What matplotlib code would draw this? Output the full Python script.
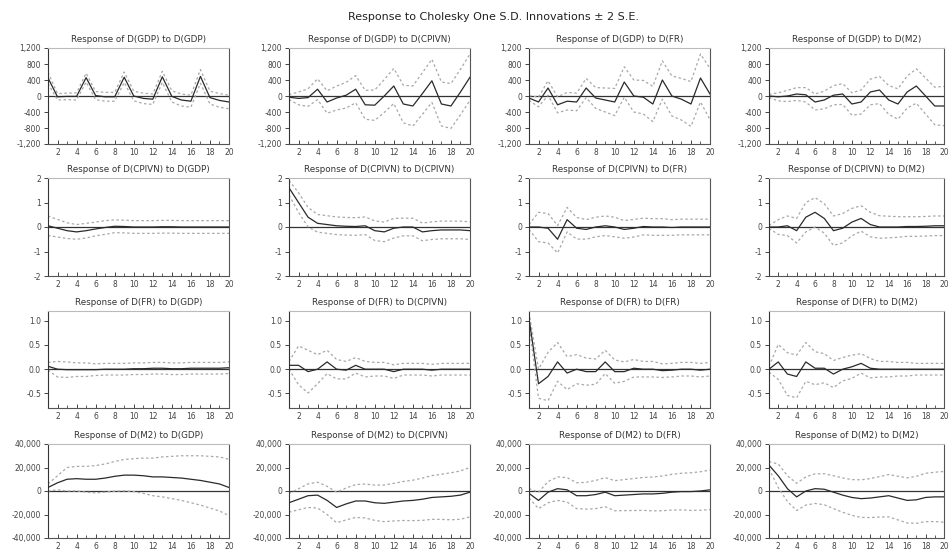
import numpy as np
import matplotlib
matplotlib.use("Agg")
import matplotlib.pyplot as plt
from matplotlib.ticker import FuncFormatter, MultipleLocator

# periods after the shock
periods = list(range(1, 21))
variables = ["GDP", "CPIVN", "FR", "M2"]

# responses (solid line) and standard errors (bands are +/- 2 S.E.)
# row 1: response of D(GDP)
resp_gdp_gdp = [450, -20, -10, -10, 460, 10, -20, -20, 470, 0, -60, -80, 480, -10, -100, -130, 490, -40, -110, -150]
se_gdp_gdp = [70, 40, 40, 45, 55, 50, 55, 55, 65, 60, 65, 65, 70, 70, 75, 75, 85, 80, 85, 85]
resp_gdp_cpivn = [-30, -60, -40, 170, -150, -50, 20, 170, -220, -230, 0, 250, -200, -250, 60, 380, -200, -250, 100, 470]
se_gdp_cpivn = [30, 80, 110, 130, 140, 150, 160, 170, 180, 190, 205, 220, 235, 250, 260, 270, 275, 280, 285, 290]
resp_gdp_fr = [-50, -150, 200, -220, -130, -150, 200, -50, -100, -150, 350, 0, -30, -200, 400, 0, -80, -200, 450, 50]
se_gdp_fr = [30, 60, 90, 100, 110, 110, 120, 130, 150, 170, 190, 200, 210, 220, 240, 250, 260, 280, 300, 320]
resp_gdp_m2 = [0, -20, 0, 50, 30, -150, -100, 20, 50, -200, -150, 100, 150, -100, -200, 100, 250, 0, -250, -250]
se_gdp_m2 = [20, 50, 70, 80, 90, 100, 110, 120, 130, 140, 150, 160, 170, 180, 190, 200, 215, 225, 235, 245]

# row 2: response of D(CPIVN)
resp_cpivn_gdp = [0.05, -0.05, -0.15, -0.2, -0.15, -0.08, -0.02, 0.03, 0.02, 0.0, 0.0, 0.0, 0.01, 0.01, 0.0, 0.0, 0.0, 0.0, 0.0, 0.0]
se_cpivn_gdp = [0.2, 0.18, 0.16, 0.15, 0.15, 0.14, 0.14, 0.13, 0.13, 0.13, 0.13, 0.13, 0.13, 0.13, 0.13, 0.13, 0.13, 0.13, 0.13, 0.13]
resp_cpivn_cpivn = [1.6, 1.0, 0.4, 0.15, 0.1, 0.05, 0.03, 0.02, 0.05, -0.15, -0.2, -0.05, 0.0, 0.0, -0.2, -0.15, -0.12, -0.12, -0.12, -0.15]
se_cpivn_cpivn = [0.15, 0.2, 0.2, 0.18, 0.18, 0.18, 0.18, 0.18, 0.18, 0.2, 0.2, 0.2, 0.18, 0.18, 0.18, 0.18, 0.18, 0.18, 0.18, 0.18]
resp_cpivn_fr = [0.0, 0.0, -0.05, -0.5, 0.3, -0.05, -0.1, 0.0, 0.05, 0.0, -0.1, -0.05, 0.02, 0.0, 0.0, -0.02, 0.0, 0.0, 0.0, 0.0]
se_cpivn_fr = [0.05, 0.3, 0.3, 0.28, 0.25, 0.22, 0.2, 0.2, 0.2, 0.2, 0.18, 0.18, 0.17, 0.17, 0.17, 0.16, 0.16, 0.16, 0.16, 0.16]
resp_cpivn_m2 = [0.0, 0.0, 0.05, -0.15, 0.4, 0.6, 0.35, -0.15, -0.05, 0.2, 0.35, 0.1, 0.0, 0.0, 0.0, 0.02, 0.02, 0.03, 0.05, 0.05]
se_cpivn_m2 = [0.03, 0.15, 0.2, 0.25, 0.3, 0.3, 0.3, 0.3, 0.3, 0.28, 0.26, 0.25, 0.23, 0.22, 0.21, 0.2, 0.2, 0.2, 0.2, 0.2]

# row 3: response of D(FR)
resp_fr_gdp = [0.06, 0.0, -0.01, -0.01, -0.01, -0.01, 0.0, 0.0, 0.0, 0.01, 0.01, 0.02, 0.02, 0.01, 0.01, 0.02, 0.02, 0.02, 0.02, 0.03]
se_fr_gdp = [0.04, 0.08, 0.08, 0.07, 0.07, 0.06, 0.06, 0.06, 0.06, 0.06, 0.06, 0.06, 0.06, 0.06, 0.06, 0.06, 0.06, 0.06, 0.06, 0.06]
resp_fr_cpivn = [0.08, 0.08, -0.05, 0.0, 0.15, 0.0, -0.02, 0.08, 0.0, 0.0, 0.0, -0.05, 0.0, 0.0, 0.0, -0.02, 0.0, 0.0, 0.0, 0.0]
se_fr_cpivn = [0.04, 0.2, 0.22, 0.15, 0.12, 0.1, 0.09, 0.08, 0.08, 0.07, 0.07, 0.07, 0.06, 0.06, 0.06, 0.06, 0.06, 0.06, 0.06, 0.06]
resp_fr_fr = [1.05, -0.3, -0.15, 0.15, -0.08, 0.0, -0.05, -0.05, 0.15, -0.05, -0.05, 0.02, 0.0, 0.0, -0.03, -0.02, 0.0, 0.0, -0.02, 0.0]
se_fr_fr = [0.06, 0.15, 0.25, 0.2, 0.17, 0.15, 0.14, 0.13, 0.12, 0.12, 0.1, 0.09, 0.08, 0.08, 0.07, 0.07, 0.07, 0.07, 0.07, 0.07]
resp_fr_m2 = [0.0, 0.15, -0.1, -0.15, 0.15, 0.02, 0.02, -0.1, 0.0, 0.05, 0.12, 0.02, 0.0, 0.0, 0.0, 0.0, 0.0, 0.0, 0.0, 0.0]
se_fr_m2 = [0.03, 0.18, 0.22, 0.22, 0.2, 0.17, 0.15, 0.14, 0.12, 0.12, 0.1, 0.1, 0.08, 0.08, 0.07, 0.07, 0.06, 0.06, 0.06, 0.06]

# row 4: response of D(M2)
resp_m2_gdp = [3000, 7000, 10000, 10500, 10000, 10000, 11000, 12500, 13500, 13500, 13000, 12000, 12000, 11500, 11000, 10000, 9000, 7500, 6000, 3000]
se_m2_gdp = [1500, 3000, 5000, 5200, 5500, 5800, 6000, 6300, 6700, 7000, 7500, 8000, 8500, 9000, 9500, 10000, 10500, 11000, 11500, 12000]
resp_m2_cpivn = [-10000, -7000, -4000, -3500, -8000, -14000, -11000, -8500, -8500, -10000, -10500, -9500, -8500, -8000, -7000, -5500, -5000, -4500, -3500, -1000]
se_m2_cpivn = [4000, 4500, 5000, 5500, 6000, 6500, 6800, 7000, 7200, 7500, 7800, 8000, 8300, 8600, 9000, 9300, 9600, 10000, 10300, 10500]
resp_m2_fr = [-2000, -8000, -1000, 2000, 1000, -4000, -4000, -3000, -1000, -4000, -3500, -3000, -2500, -2500, -2000, -1000, -500, -500, 0, 1000]
se_m2_fr = [2000, 3500, 4500, 5000, 5200, 5500, 5700, 6000, 6200, 6400, 6600, 6800, 7000, 7200, 7400, 7600, 7800, 8000, 8200, 8400]
resp_m2_m2 = [22000, 13000, 2000, -5000, 0, 2000, 1500, -1000, -3500, -5500, -6500, -6000, -5000, -4000, -6000, -8000, -7500, -5500, -5000, -5000]
se_m2_m2 = [1500, 5000, 5500, 5800, 6000, 6300, 6600, 7000, 7300, 7600, 8000, 8300, 8600, 9000, 9300, 9600, 10000, 10300, 10500, 10800]

responses = [
    [resp_gdp_gdp, resp_gdp_cpivn, resp_gdp_fr, resp_gdp_m2],
    [resp_cpivn_gdp, resp_cpivn_cpivn, resp_cpivn_fr, resp_cpivn_m2],
    [resp_fr_gdp, resp_fr_cpivn, resp_fr_fr, resp_fr_m2],
    [resp_m2_gdp, resp_m2_cpivn, resp_m2_fr, resp_m2_m2],
]
errors = [
    [se_gdp_gdp, se_gdp_cpivn, se_gdp_fr, se_gdp_m2],
    [se_cpivn_gdp, se_cpivn_cpivn, se_cpivn_fr, se_cpivn_m2],
    [se_fr_gdp, se_fr_cpivn, se_fr_fr, se_fr_m2],
    [se_m2_gdp, se_m2_cpivn, se_m2_fr, se_m2_m2],
]

# y axis per responding variable: limits, tick step, label format
row_ylim = [(-1200, 1200), (-2, 2), (-0.8, 1.2), (-40000, 40000)]
row_ystep = [400, 1, 0.5, 20000]
row_fmt = ["{:,.0f}", "{:.0f}", "{:.1f}", "{:,.0f}"]

# panel boxes in pixels (the scan is slightly skewed, keep it simple)
W, H = 950, 550
col_left = [48, 289, 529, 769]
col_w = [181, 181, 181, 175]
row_top = [48, 178, 311, 444]
row_h = [96, 98, 97, 94]

fig = plt.figure(figsize=(9.5, 5.5), dpi=100)
fig.text(0.52, 1 - 17 / H, "Response to Cholesky One S.D. Innovations \u00b1 2 S.E.",
         ha="center", va="center", fontsize=8, color="#222222")

for i in range(4):
    for j in range(4):
        ax = fig.add_axes([col_left[j] / W, 1 - (row_top[i] + row_h[i]) / H,
                           col_w[j] / W, row_h[i] / H])
        r = np.array(responses[i][j])
        se = np.array(errors[i][j])

        ax.axhline(0, color="#333333", lw=0.9, zorder=1)
        ax.plot(periods, r + 2 * se, color="#a8a8a8", lw=0.9, ls=(0, (2, 2)), zorder=2)
        ax.plot(periods, r - 2 * se, color="#a8a8a8", lw=0.9, ls=(0, (2, 2)), zorder=2)
        ax.plot(periods, r, color="#2a2a2a", lw=0.9, zorder=3)

        ax.set_xlim(1, 20)
        ax.set_ylim(*row_ylim[i])
        ax.xaxis.set_major_locator(MultipleLocator(2))
        ax.xaxis.set_minor_locator(MultipleLocator(1))
        ax.yaxis.set_major_locator(MultipleLocator(row_ystep[i]))
        fmt = row_fmt[i]
        ax.yaxis.set_major_formatter(FuncFormatter(lambda v, p, f=fmt: f.format(v)))

        ax.tick_params(axis="x", which="major", direction="in", length=3, width=0.7,
                       labelsize=5.5, pad=3, colors="#444444")
        ax.tick_params(axis="x", which="minor", direction="in", length=2, width=0.6,
                       colors="#444444")
        ax.tick_params(axis="y", direction="out", length=3, width=0.7,
                       labelsize=5.5, pad=2, colors="#444444")

        ax.spines["left"].set_color("#333333")
        ax.spines["right"].set_color("#555555")
        ax.spines["bottom"].set_color("#555555")
        ax.spines["top"].set_color("#bbbbbb")
        for s in ax.spines.values():
            s.set_linewidth(0.8)

        ax.set_title(f"Response of D({variables[i]}) to D({variables[j]})",
                     fontsize=6.3, pad=4, color="#333333")

fig.savefig("out.png", dpi=100)
